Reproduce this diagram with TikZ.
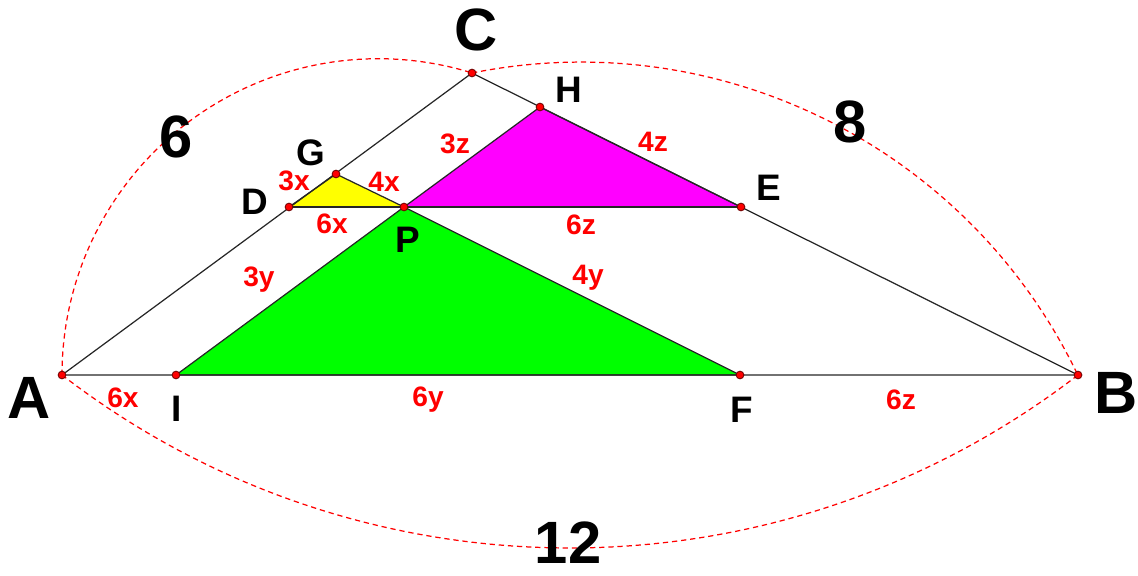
\documentclass[tikz,border=0pt]{standalone}
\usepackage{fontspec}
\setmainfont{Liberation Sans}
\definecolor{triyellow}{RGB}{255,255,0}
\definecolor{trimagenta}{RGB}{255,0,255}
\definecolor{trigreen}{RGB}{0,255,0}
\begin{document}
\begin{tikzpicture}[x=0.02cm,y=0.02cm,
  edge/.style={draw=black!85,line width=0.7pt},
  dasharc/.style={draw=red,line width=0.7pt,dash pattern=on 3pt off 2.2pt},
  ptdot/.style={fill=red,draw=black!55!red,line width=0.5pt},
  big/.style={font=\fontsize{34}{34}\selectfont\bfseries},
  ptlab/.style={font=\fontsize{21}{21}\selectfont\bfseries},
  len/.style={text=red,font=\fontsize{16}{16}\selectfont\bfseries}]
\useasboundingbox (0,0) rectangle (1138,575);
% points
\coordinate (A) at (62,200);
\coordinate (B) at (1078,200);
\coordinate (C) at (472,502);
\coordinate (D) at (289,368);
\coordinate (E) at (741,368);
\coordinate (P) at (404,368);
\coordinate (G) at (336,401);
\coordinate (H) at (540,468);
\coordinate (I) at (176,200);
\coordinate (F) at (740,200);
% filled triangles
\path[fill=triyellow,edge] (D) -- (G) -- (P) -- cycle;
\path[fill=trimagenta,edge] (P) -- (H) -- (E) -- cycle;
\path[fill=trigreen,edge] (P) -- (I) -- (F) -- cycle;
% main lines
\draw[edge] (A) -- (C) -- (B) -- cycle;
\draw[edge] (D) -- (E);
% dashed arcs
\draw[dasharc] (A) arc[start angle=180, end angle=72.7, radius=316.3];
\draw[dasharc] (C) arc[start angle=101.4, end angle=25.6, radius=551];
\draw[dasharc] (A) arc[start angle=232.39, end angle=307.61, radius=832.4];
% dots
\foreach \p in {A,B,C,D,E,P,G,H,I,F} \filldraw[ptdot] (\p) circle (2.2pt);
% big labels
\node[big] (lC) at (476,545) {C};
\node[big] (lA) at (29,177) {A};
\node[big] (lB) at (1116,182) {B};
\node[big] (l6) at (176,438) {6};
\node[big] (l8) at (850,453) {8};
\node[big,inner sep=0pt] (l12) at (568,32) {12};
% point labels
\node[ptlab] (lG) at (311,422) {G};
\node[ptlab] (lD) at (255,373) {D};
\node[ptlab] (lP) at (408,335) {P};
\node[ptlab] (lH) at (569,485) {H};
\node[ptlab] (lE) at (769,387) {E};
\node[ptlab] (lI) at (177,166) {I};
\node[ptlab] (lF) at (742,165) {F};
% length labels
\node[len] (t3x) at (294,394) {3x};
\node[len] (t4x) at (384,393) {4x};
\node[len] (t6x) at (332,351) {6x};
\node[len] (t3z) at (455,431) {3z};
\node[len] (t4z) at (653,433) {4z};
\node[len] (t6z) at (581,350) {6z};
\node[len] (t3y) at (259,295) {3y};
\node[len] (t4y) at (588,297) {4y};
\node[len] (b6x) at (123,177) {6x};
\node[len] (b6y) at (428,175) {6y};
\node[len] (b6z) at (901,175) {6z};
\end{tikzpicture}
\end{document}
